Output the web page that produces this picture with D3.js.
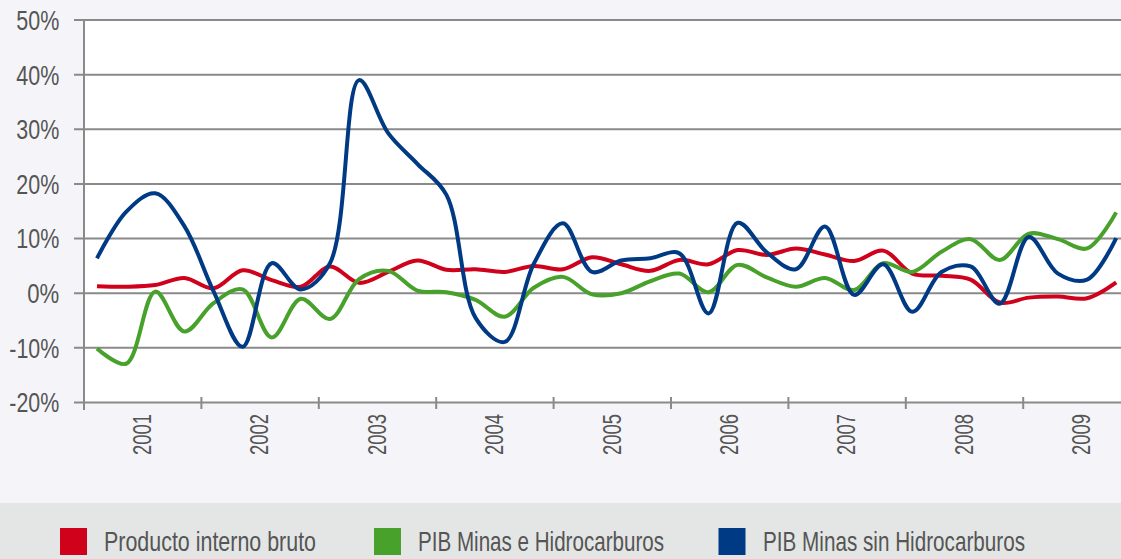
<!DOCTYPE html>
<html>
<head>
<meta charset="utf-8">
<script src="https://cdn.jsdelivr.net/npm/d3@7"></script>
<style>
html,body{margin:0;padding:0;background:#f5f5f9;}
svg{display:block;}
</style>
</head>
<body>
<svg id="chart" width="1121" height="559"></svg>
<script>
// ---------- DATA ----------
const years = ["2001","2002","2003","2004","2005","2006","2007","2008","2009"];
const quarterNames = ["I","II","III","IV"];
const quarters = years.flatMap(y => quarterNames.map(q => y + "-" + q));

const pib = [1.2, 1.1, 1.4, 2.7, 0.8, 4.1, 2.3, 1.1, 4.8, 1.8, 3.8, 5.9,
             4.2, 4.3, 3.8, 4.9, 4.3, 6.5, 5.2, 4.0, 6.0, 5.2, 7.8, 6.9,
             8.1, 7.0, 5.8, 7.7, 3.5, 3.1, 2.4, -1.8, -0.9, -0.7, -1.0, 1.9];
const pibMinasHidro = [-10.2, -13.0, 0.2, -7.1, -1.9, 0.6, -8.2, -1.1, -4.8, 2.5, 4.0, 0.4,
                       0.1, -1.3, -4.4, 0.9, 2.9, -0.3, -0.1, 2.1, 3.5, 0.1, 5.1, 2.8,
                       1.1, 2.7, 0.5, 5.4, 3.8, 7.5, 9.8, 6.0, 10.8, 9.8, 8.1, 14.7];
const pibMinasSinHidro = [6.3, 14.8, 18.2, 12.2, 0.3, -9.9, 5.4, 0.6, 5.4, 38.9, 29.2, 23.6,
                          17.9, -4.6, -9.0, 5.3, 12.7, 3.8, 5.9, 6.3, 7.2, -3.8, 12.8, 7.4,
                          4.3, 12.1, -0.4, 5.2, -3.5, 3.8, 4.8, -2.0, 10.2, 3.5, 2.4, 10.0];

const yTicks = [-20, -10, 0, 10, 20, 30, 40, 50];
const seriesNames = ["Producto interno bruto", "PIB Minas e Hidrocarburos", "PIB Minas sin Hidrocarburos"];
const seriesValues = [pib, pibMinasHidro, pibMinasSinHidro];

// ---------- STYLE / LAYOUT ----------
const colors = ["#d0021b", "#47a12b", "#003a84"];
const W = 1121, H = 559;
const plot = {left: 84, top: 19.5, bottom: 402, right: 1121};
const gridColor = "#8a8a8a";
const textColor = "#555555";
const fontFam = "'Liberation Sans', Arial, sans-serif";

const svg = d3.select("#chart");

// background
svg.append("rect").attr("x",0).attr("y",0).attr("width",W).attr("height",H).attr("fill","#f5f5f9");
svg.append("rect").attr("x",plot.left).attr("y",plot.top)
   .attr("width",plot.right-plot.left).attr("height",plot.bottom-plot.top).attr("fill","#ffffff");
svg.append("rect").attr("x",0).attr("y",503).attr("width",W).attr("height",H-503).attr("fill","#e4e6e5");

// scales
const y = d3.scaleLinear().domain([-20, 50]).range([plot.bottom, plot.top]);
const xq = d3.scalePoint().domain(quarters).range([97, 1116.2]);
const xYear = d3.scaleBand().domain(years).range([plot.left, plot.left + 9 * 117.4]);

// y grid + labels via axis
const yAxis = d3.axisLeft(y).tickValues(yTicks).tickSize(-(plot.right - 74)).tickPadding(14.7)
  .tickFormat(d => d + "%");
const gy = svg.append("g").attr("transform", "translate(74,0)").call(yAxis);
gy.select(".domain").remove();
gy.selectAll(".tick line").attr("stroke", gridColor).attr("stroke-width", 2);
const yLabelWidth = {"-20":50, "-10":50, "0":32, "10":43, "20":43, "30":43, "40":43, "50":43};
gy.selectAll(".tick text")
  .attr("fill", textColor).attr("font-family", fontFam).attr("font-size", 27.5)
  .attr("dy", "0.36em")
  .attr("textLength", d => yLabelWidth[String(d)])
  .attr("lengthAdjust", "spacingAndGlyphs");

// y axis line
svg.append("line").attr("x1", plot.left).attr("x2", plot.left)
   .attr("y1", plot.top).attr("y2", 410)
   .attr("stroke", gridColor).attr("stroke-width", 2);

// x ticks at year boundaries
svg.append("g").selectAll("line").data(years.slice(1)).join("line")
  .attr("x1", d => xYear(d)).attr("x2", d => xYear(d))
  .attr("y1", 397).attr("y2", 409)
  .attr("stroke", gridColor).attr("stroke-width", 2);

// year labels
svg.append("g").selectAll("text").data(years).join("text")
  .attr("transform", d => `translate(${xYear(d) + xYear.bandwidth()/2 - 1},414) rotate(-90)`)
  .attr("text-anchor", "end").attr("dy", "0.36em")
  .attr("font-family", fontFam).attr("font-size", 26).attr("fill", textColor)
  .attr("textLength", 41).attr("lengthAdjust", "spacingAndGlyphs")
  .text(d => d);

// lines
const line = d3.line()
  .x((d, i) => xq(quarters[i]))
  .y(d => y(d))
  .curve(d3.curveCatmullRom.alpha(0.5));

svg.append("g").selectAll("path").data(seriesValues).join("path")
  .attr("d", d => line(d))
  .attr("fill", "none")
  .attr("stroke", (d, i) => colors[i])
  .attr("stroke-width", 4)
  .attr("stroke-linejoin", "round");

// legend
const legendSquareX = [60, 374, 718.5];
const legendTextX = [104, 418, 763];
const legendTextW = [212, 246, 262];
const lg = svg.append("g");
lg.selectAll("rect").data(seriesNames).join("rect")
  .attr("x", (d, i) => legendSquareX[i]).attr("y", 528)
  .attr("width", 27).attr("height", 27)
  .attr("fill", (d, i) => colors[i]);
lg.selectAll("text").data(seriesNames).join("text")
  .attr("x", (d, i) => legendTextX[i]).attr("y", 551)
  .attr("font-family", fontFam).attr("font-size", 28).attr("fill", textColor)
  .attr("textLength", (d, i) => legendTextW[i]).attr("lengthAdjust", "spacingAndGlyphs")
  .text(d => d);
</script>
</body>
</html>
